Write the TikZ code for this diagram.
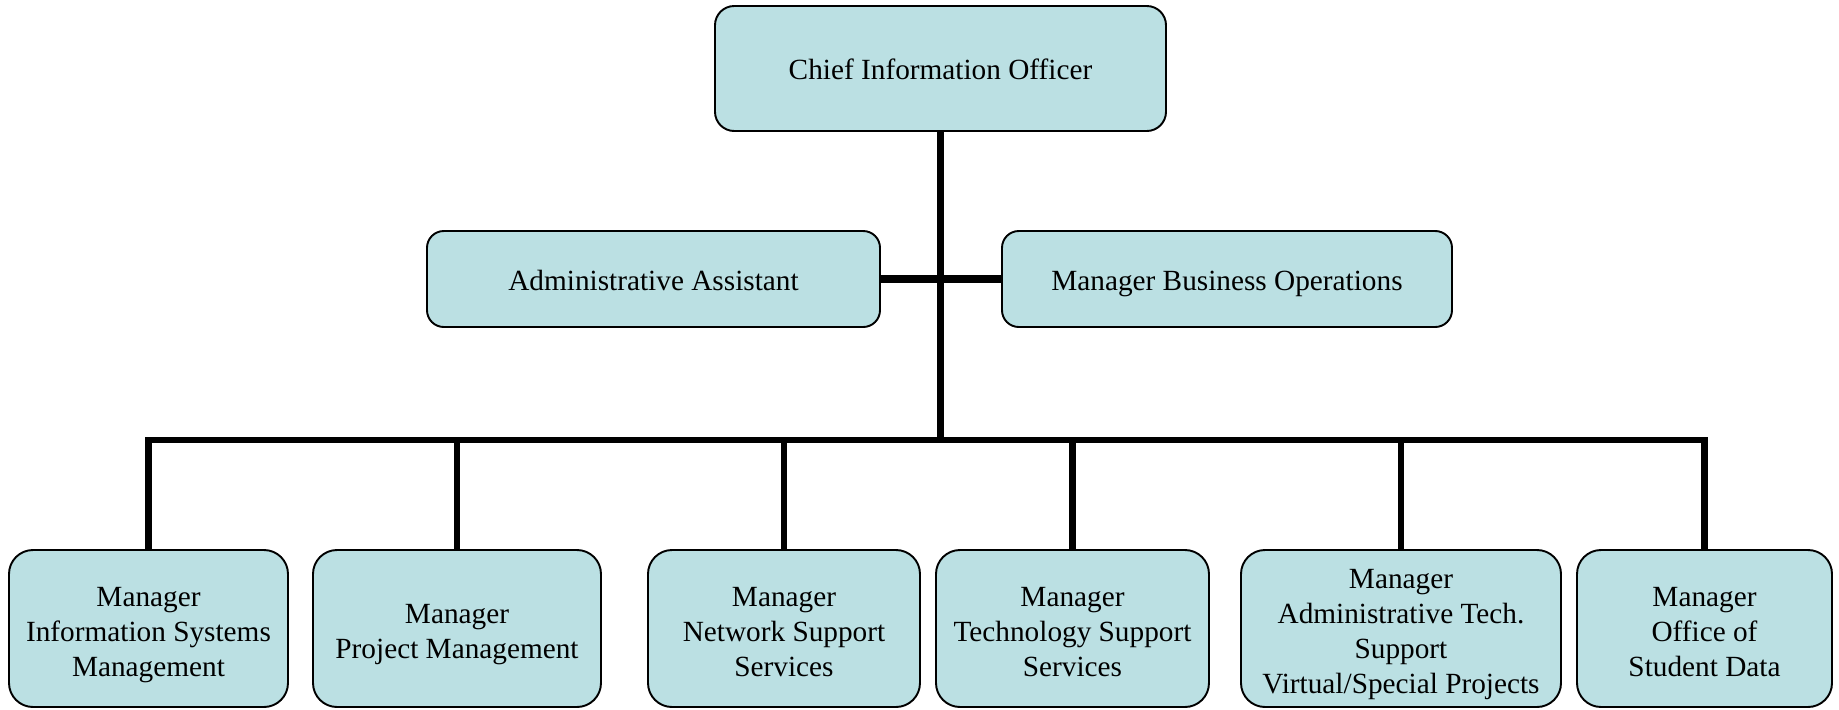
\documentclass[tikz,border=0pt]{standalone}
\usepackage{fontspec}
\setmainfont{Liberation Serif}
\definecolor{boxfill}{RGB}{187,224,227}
\newcommand\lnstrut{\rule[-2.65pt]{0pt}{14.5pt}}
\newcommand\lowtop{\rule{0pt}{13.3pt}}
\newcommand\lowbot{\rule[-2.65pt]{0pt}{2.65pt}}
\begin{document}
\begin{tikzpicture}[x=0.41667pt,y=-0.41667pt,
  basebox/.style={draw=black, line width=0.8pt, fill=boxfill,
    align=center, inner sep=0pt, outer sep=0pt,
    font=\fontsize{12.2}{14.6}\selectfont},
  box/.style={basebox, rounded corners=7pt,
    execute at begin node=\lnstrut, execute at end node=\lnstrut},
  topbox/.style={box, rounded corners=8pt},
  lowbox/.style={basebox, rounded corners=10pt, minimum height=157*0.41667pt},
  link/.style={line width=2.6pt, line join=miter},
  hlink/.style={line width=3pt}]
\useasboundingbox (0,0) rectangle (1839,709);
% top
\node[topbox, minimum width=451*0.41667pt, minimum height=125*0.41667pt] (cio) at (940.5,68.5) {Chief Information Officer};
\node[box, minimum width=453*0.41667pt, minimum height=96*0.41667pt] (admin) at (653.5,279) {Administrative Assistant};
\node[box, minimum width=450*0.41667pt, minimum height=96*0.41667pt] (mbo) at (1227,279) {Manager Business Operations};
% bottom row
\node[lowbox, minimum width=279*0.41667pt] (b1) at (148.5,628.5) {\lowtop Manager\\Information Systems\\Management\lowbot};
\node[lowbox, minimum width=288*0.41667pt] (b2) at (457,628.5) {\lowtop Manager\\Project Management\lowbot};
\node[lowbox, minimum width=272*0.41667pt] (b3) at (784,628.5) {\lowtop Manager\\Network Support\\Services\lowbot};
\node[lowbox, minimum width=273*0.41667pt] (b4) at (1072.5,628.5) {\lowtop Manager\\Technology Support\\Services\lowbot};
\node[lowbox, minimum width=320*0.41667pt] (b5) at (1401,628.5) {\lowtop Manager\\Administrative Tech.\\Support\\Virtual/Special Projects\lowbot};
\node[lowbox, minimum width=255*0.41667pt] (b6) at (1704.5,628.5) {\lowtop Manager\\Office of\\Student Data\lowbot};
% connectors
\coordinate (bus) at (cio.south |- 0,440);
\draw[link] (cio.south) -- (bus);
\draw[hlink] (admin.east) -- (mbo.west);
\draw[link] (b1.north) |- (bus) -- (b6.north |- bus) -- (b6.north);
\foreach \b in {b2,b3,b4,b5}
  \draw[link] (\b.north) -- (\b.north |- bus);
\end{tikzpicture}
\end{document}
